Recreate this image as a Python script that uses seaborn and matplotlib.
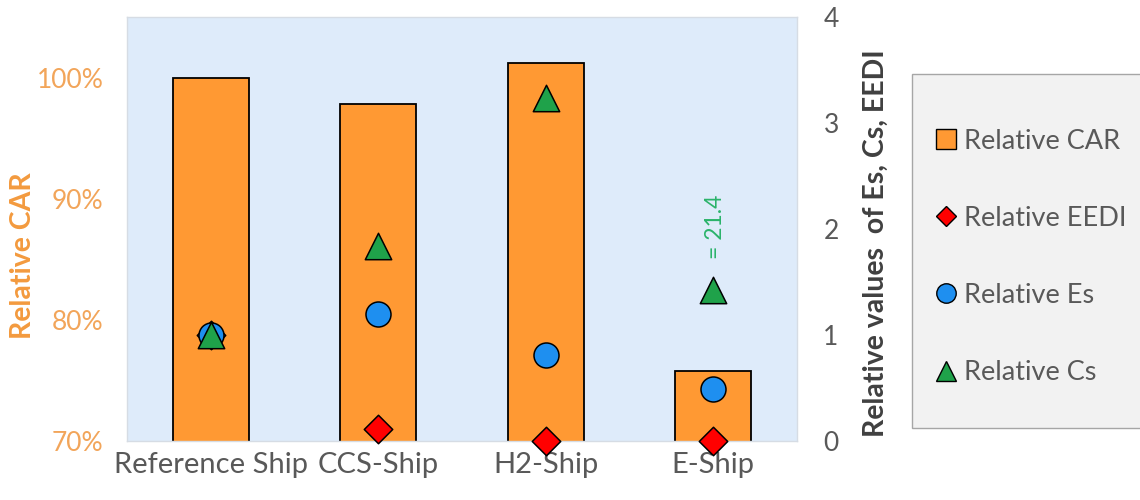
import matplotlib
matplotlib.use("Agg")
import matplotlib.pyplot as plt
from matplotlib.patches import Patch, Rectangle
from matplotlib.lines import Line2D
import seaborn as sns
import pandas as pd

# ---- data -------------------------------------------------------------
ships = ["Reference Ship", "CCS-Ship", "H2-Ship", "E-Ship"]
car_pct = [100.0, 97.8, 101.2, 75.8]      # relative CAR, %
eedi = [1.0, 0.11, 0.0, 0.0]              # relative EEDI
es = [1.0, 1.20, 0.81, 0.49]              # relative Es
cs = [1.0, 1.84, 3.24, 21.4]              # relative Cs
car_ticks = [70, 80, 90, 100]
rel_ticks = [0, 1, 2, 3, 4]

# ---- style ------------------------------------------------------------
sns.set_style("white")
plt.rcParams["font.family"] = ["Lato", "DejaVu Sans"]

BAR = "#FF9933"
CAR_TXT = "#F2A55A"
CAR_LBL = "#F39A3E"
GREY_TXT = "#595959"
DARK_TXT = "#404040"
BLUE = "#1E8FF0"
GREEN = "#1FA24A"
RED = "#FF0000"
PLOT_BG = "#DEEBFA"
CS_OVERFLOW_Y = 1.42   # where off-scale Cs values are marked

fig = plt.figure(figsize=(11.4, 5.0), dpi=100)
ax = fig.add_axes([127 / 1140, 1 - 441 / 500, 670 / 1140, 424 / 500])
ax.set_facecolor(PLOT_BG)

df = pd.DataFrame({"ship": ships, "car": car_pct, "eedi": eedi, "es": es, "cs": cs})

sns.barplot(data=df, x="ship", y="car", color=BAR, saturation=1,
            edgecolor="black", linewidth=1.3, width=0.455, ax=ax, zorder=2)
ax.set_xlim(-0.5, len(ships) - 0.5)
ax.set_ylim(70, 105)
ax.set_yticks(car_ticks)
ax.set_yticklabels([f"{t}%" for t in car_ticks], color=CAR_TXT, fontsize=19)
ax.tick_params(axis="y", length=0, pad=17)
ax.tick_params(axis="x", length=0, pad=8, labelsize=21, labelcolor=GREY_TXT)
ax.set_xlabel("")
ax.set_ylabel("Relative CAR", color=CAR_LBL, fontsize=20.5, fontweight="bold")
ax.yaxis.set_label_coords(-0.136, 0.436)
for s in ax.spines.values():
    s.set_color("#D6DCE4")
    s.set_linewidth(1.0)

# ---- secondary axis with the relative indicators ----------------------
ax2 = ax.twinx()
ax2.set_ylim(0, 4)
ax2.set_yticks(rel_ticks)
ax2.set_yticklabels([str(t) for t in rel_ticks], color=GREY_TXT, fontsize=19)
ax2.tick_params(axis="y", length=0, pad=19)
for s in ax2.spines.values():
    s.set_visible(False)

df["cs_mark"] = [v if v <= rel_ticks[-1] else CS_OVERFLOW_Y for v in cs]

common = dict(x="ship", ax=ax2, edgecolor="black", linewidth=1.1, legend=False,
              clip_on=False, zorder=5)
sns.scatterplot(data=df, y="eedi", marker="D", s=210, color=RED, **common)
sns.scatterplot(data=df, y="es", marker="o", s=18 ** 2, color=BLUE, **common)
sns.scatterplot(data=df, y="cs_mark", marker="^", s=19 ** 2, color=GREEN, **common)
ax2.set_xlabel("")
ax2.set_ylabel("Relative values  of Es, Cs, EEDI", color=DARK_TXT, fontsize=20.5,
               fontweight="bold")
ax2.yaxis.set_label_coords(1.0985, 0.467)

for i, (v, y) in enumerate(zip(cs, df["cs_mark"])):
    if v > rel_ticks[-1]:
        ax2.annotate(f"= {v:.1f}", xy=(i, y), xytext=(1.5, 23), textcoords="offset points",
                     rotation=90, ha="center", va="bottom", color="#2AB36A", fontsize=16.5)

# ---- legend -----------------------------------------------------------
fig.patches.append(Rectangle((912 / 1140, 1 - 428 / 500), 0.3, 354 / 500,
                             transform=fig.transFigure, facecolor="#F2F2F2",
                             edgecolor="#A6A6A6", linewidth=1.0, zorder=0))
handles = [
    Patch(facecolor=BAR, edgecolor="black", linewidth=1.0, label="Relative CAR"),
    Line2D([], [], ls="none", marker="D", markersize=10, markerfacecolor=RED,
           markeredgecolor="black", label="Relative EEDI"),
    Line2D([], [], ls="none", marker="o", markersize=14, markerfacecolor=BLUE,
           markeredgecolor="black", label="Relative Es"),
    Line2D([], [], ls="none", marker="^", markersize=14, markerfacecolor=GREEN,
           markeredgecolor="black", label="Relative Cs"),
]
fig.legend(handles=handles, loc="center left", bbox_to_anchor=(922 / 1140, 1 - 257 / 500),
           frameon=False, fontsize=19.5, labelcolor=GREY_TXT, borderpad=0,
           handlelength=0.74, handleheight=0.74, handletextpad=0.3, labelspacing=1.93)

fig.savefig("out.png", dpi=100)
